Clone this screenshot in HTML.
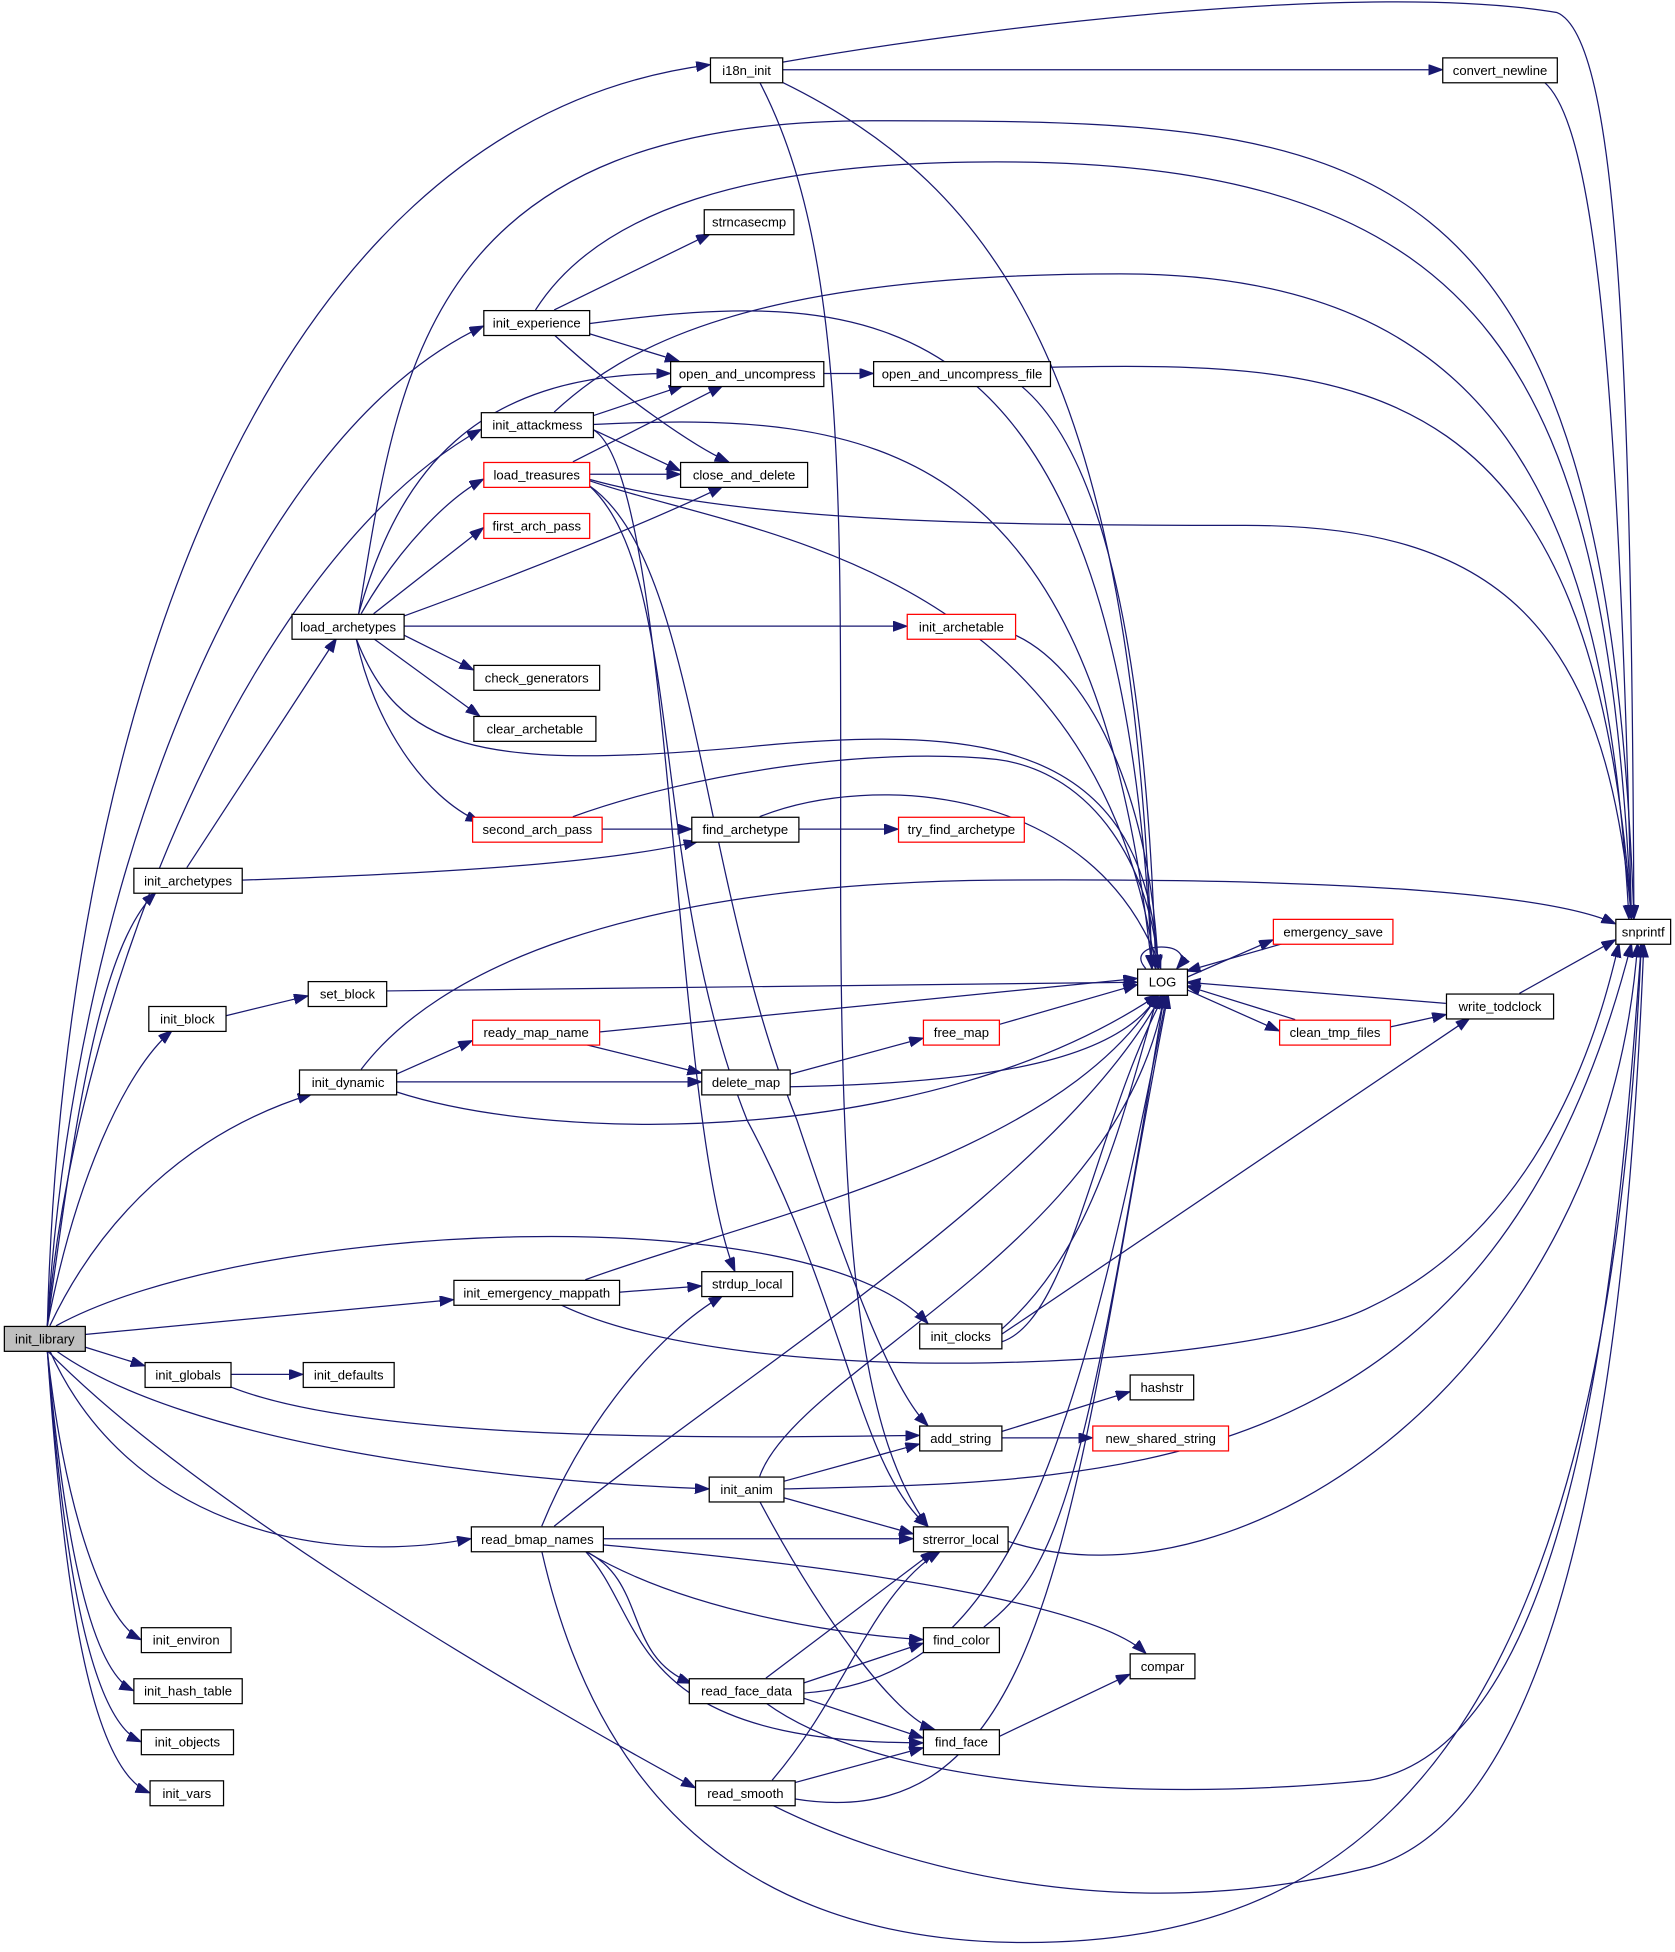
<!DOCTYPE html>
<html><head><meta charset="utf-8"><style>
html,body{margin:0;padding:0;background:#fff;}
svg{display:block;}
text{font-family:"Liberation Sans",sans-serif;font-size:10.5px;fill:#000;text-anchor:middle;dominant-baseline:central;}
.n{fill:#fff;stroke:#000;stroke-width:1;}
.r{fill:#fff;stroke:#ff0000;stroke-width:1;}
.g{fill:#bfbfbf;stroke:#000;stroke-width:1;}
path.e{fill:none;stroke:#191970;stroke-width:1;marker-end:url(#a);}
</style></head><body>
<svg width="1675" height="1952" viewBox="0 0 1345 1568" preserveAspectRatio="none" xmlns="http://www.w3.org/2000/svg">
<defs><marker id="a" markerUnits="userSpaceOnUse" markerWidth="12" markerHeight="10" refX="11" refY="4" orient="auto"><path d="M0,0 L11,4 L0,8 z" fill="#191970" stroke="#191970"/></marker></defs>
<g>
<path class="e" d="M38,1065 C50,600 200,100 570,52"/>
<path class="e" d="M38,1065 C60,700 200,350 388,262"/>
<path class="e" d="M38,1065 C60,800 200,450 386,345"/>
<path class="e" d="M38,1065 C60,900 80,760 125,717"/>
<path class="e" d="M38,1065 C60,950 100,860 138,828"/>
<path class="e" d="M40,1065 C80,980 150,910 250,879"/>
<path class="e" d="M45,1065 C200,980 650,960 745,1063"/>
<path class="e" d="M68,1072 L364,1044"/>
<path class="e" d="M68,1082 L116,1097"/>
<path class="e" d="M45,1085 C150,1160 400,1190 569,1196"/>
<path class="e" d="M40,1085 C100,1220 250,1260 378,1236"/>
<path class="e" d="M38,1085 C150,1200 400,1350 558,1436"/>
<path class="e" d="M38,1085 C50,1200 80,1300 113,1317"/>
<path class="e" d="M38,1085 C50,1220 70,1340 107,1358"/>
<path class="e" d="M38,1085 C50,1240 70,1380 113,1399"/>
<path class="e" d="M38,1085 C50,1260 70,1420 120,1440"/>
<path class="e" d="M628,56 L1158,56"/>
<path class="e" d="M628,50 C800,20 1100,-15 1250,10 C1300,30 1310,300 1312,738"/>
<path class="e" d="M628,66 C800,150 910,300 925,778"/>
<path class="e" d="M610,66 C680,200 675,400 675,700 C675,1000 690,1150 745,1226"/>
<path class="e" d="M1240,66 C1280,100 1300,300 1310,738"/>
<path class="e" d="M288,493 C320,300 340,97 700,97 C1100,97 1290,100 1312,738"/>
<path class="e" d="M445,249 L570,188"/>
<path class="e" d="M430,249 C480,170 600,130 800,130 C1200,130 1290,300 1310,738"/>
<path class="e" d="M473,268 L545,290"/>
<path class="e" d="M445,269 C500,320 560,360 585,371"/>
<path class="e" d="M473,260 C700,230 900,230 925,778"/>
<path class="e" d="M288,493 C320,380 380,300 538,300"/>
<path class="e" d="M476,334 L548,310"/>
<path class="e" d="M476,345 L546,378"/>
<path class="e" d="M445,331 C500,280 600,220 900,220 C1200,220 1290,400 1308,738"/>
<path class="e" d="M476,341 C700,330 880,350 925,778"/>
<path class="e" d="M476,345 C540,380 540,900 590,1021"/>
<path class="e" d="M661,300 L701,300"/>
<path class="e" d="M843,295 C1100,290 1280,300 1310,738"/>
<path class="e" d="M820,310 C880,360 920,500 928,778"/>
<path class="e" d="M460,371 L580,310"/>
<path class="e" d="M473,381 L546,381"/>
<path class="e" d="M473,385 C600,420 800,422 1000,422 C1200,422 1290,500 1310,738"/>
<path class="e" d="M473,386 C600,430 880,450 928,778"/>
<path class="e" d="M473,390 C560,450 560,700 640,900 C690,1050 720,1120 745,1145"/>
<path class="e" d="M473,390 C550,460 520,700 600,900 C680,1050 690,1180 745,1226"/>
<path class="e" d="M290,493 C320,440 360,400 388,385"/>
<path class="e" d="M300,493 L388,424"/>
<path class="e" d="M324,495 C420,460 520,420 580,391"/>
<path class="e" d="M324,503 L728,503"/>
<path class="e" d="M324,510 L380,538"/>
<path class="e" d="M300,513 L385,575"/>
<path class="e" d="M286,513 C300,580 340,640 385,660"/>
<path class="e" d="M286,513 C320,600 380,620 600,600 C800,580 920,600 930,778"/>
<path class="e" d="M815,510 C880,540 925,650 930,778"/>
<path class="e" d="M483,666 L555,666"/>
<path class="e" d="M460,656 C560,620 700,600 800,610 C880,620 925,700 930,778"/>
<path class="e" d="M641,666 L721,666"/>
<path class="e" d="M610,656 C700,620 880,630 932,778"/>
<path class="e" d="M150,697 L270,513"/>
<path class="e" d="M194,707 C400,700 500,690 560,676"/>
<path class="e" d="M920,778 C900,755 965,755 945,778"/>
<path class="e" d="M953,785 L1022,755"/>
<path class="e" d="M1030,758 L953,780"/>
<path class="e" d="M953,795 L1027,828"/>
<path class="e" d="M1040,819 L953,792"/>
<path class="e" d="M1116,825 L1161,815"/>
<path class="e" d="M1161,806 L953,789"/>
<path class="e" d="M1220,798 L1297,755"/>
<path class="e" d="M310,796 L913,789"/>
<path class="e" d="M181,816 L247,800"/>
<path class="e" d="M290,859 C350,780 500,710 800,707 C1100,705 1250,720 1297,742"/>
<path class="e" d="M318,863 L379,836"/>
<path class="e" d="M318,869 L563,869"/>
<path class="e" d="M318,877 C450,920 750,920 930,799"/>
<path class="e" d="M481,829 L913,786"/>
<path class="e" d="M470,839 L563,862"/>
<path class="e" d="M634,863 L741,834"/>
<path class="e" d="M634,873 C800,870 900,850 930,799"/>
<path class="e" d="M802,823 L913,791"/>
<path class="e" d="M497,1038 L563,1033"/>
<path class="e" d="M470,1028 C600,980 850,930 930,799"/>
<path class="e" d="M450,1048 C600,1120 1000,1100 1100,1050 C1250,980 1290,800 1300,758"/>
<path class="e" d="M804,1068 C880,1000 900,900 930,799"/>
<path class="e" d="M804,1072 L1180,818"/>
<path class="e" d="M804,1078 C860,1060 880,900 935,799"/>
<path class="e" d="M185,1104 L243,1104"/>
<path class="e" d="M185,1114 C300,1160 600,1155 738,1153"/>
<path class="e" d="M804,1150 L907,1118"/>
<path class="e" d="M804,1155 L877,1155"/>
<path class="e" d="M629,1190 L738,1160"/>
<path class="e" d="M629,1203 L733,1232"/>
<path class="e" d="M610,1186 C640,1100 900,1000 935,799"/>
<path class="e" d="M629,1196 C900,1190 1200,1190 1310,758"/>
<path class="e" d="M610,1206 C660,1300 720,1380 750,1389"/>
<path class="e" d="M435,1226 C470,1140 530,1070 580,1041"/>
<path class="e" d="M445,1226 C600,1100 850,950 933,799"/>
<path class="e" d="M484,1236 L733,1236"/>
<path class="e" d="M484,1241 C700,1260 880,1290 920,1328"/>
<path class="e" d="M470,1246 C560,1300 700,1315 741,1317"/>
<path class="e" d="M470,1246 C520,1270 500,1330 555,1352"/>
<path class="e" d="M470,1246 C520,1300 500,1400 741,1400"/>
<path class="e" d="M435,1246 C470,1400 560,1550 800,1560 C1100,1570 1290,1400 1318,758"/>
<path class="e" d="M809,1238 C1000,1300 1290,1100 1315,758"/>
<path class="e" d="M790,1307 C850,1260 870,1200 935,799"/>
<path class="e" d="M645,1352 L741,1320"/>
<path class="e" d="M615,1348 L750,1246"/>
<path class="e" d="M645,1364 L741,1396"/>
<path class="e" d="M645,1360 C800,1350 860,1200 937,799"/>
<path class="e" d="M615,1368 C700,1430 900,1450 1100,1430 C1270,1400 1300,1000 1318,758"/>
<path class="e" d="M802,1395 L907,1345"/>
<path class="e" d="M620,1430 C680,1360 700,1280 755,1246"/>
<path class="e" d="M638,1432 L741,1404"/>
<path class="e" d="M638,1445 C850,1480 860,1200 938,799"/>
<path class="e" d="M620,1450 C720,1500 900,1550 1100,1500 C1280,1450 1310,1000 1320,758"/>
</g>
<g>
<rect class="g" x="3.5" y="1065.5" width="65" height="20"/><text x="36" y="1075.5">init_library</text>
<rect class="n" x="570.5" y="46.5" width="58" height="20"/><text x="599.5" y="56.5">i18n_init</text>
<rect class="n" x="1158.5" y="46.5" width="92" height="20"/><text x="1204.5" y="56.5">convert_newline</text>
<rect class="n" x="1297.5" y="738.5" width="44" height="20"/><text x="1319.5" y="748.5">snprintf</text>
<rect class="n" x="565.5" y="168.5" width="72" height="20"/><text x="601.5" y="178.5">strncasecmp</text>
<rect class="n" x="388.5" y="249.5" width="85" height="20"/><text x="431" y="259.5">init_experience</text>
<rect class="n" x="538.5" y="290.5" width="123" height="20"/><text x="600" y="300.5">open_and_uncompress</text>
<rect class="n" x="701.5" y="290.5" width="142" height="20"/><text x="772.5" y="300.5">open_and_uncompress_file</text>
<rect class="n" x="386.5" y="331.5" width="90" height="20"/><text x="431.5" y="341.5">init_attackmess</text>
<rect class="r" x="388.5" y="371.5" width="85" height="20"/><text x="431" y="381.5">load_treasures</text>
<rect class="n" x="546.5" y="371.5" width="102" height="20"/><text x="597.5" y="381.5">close_and_delete</text>
<rect class="r" x="388.5" y="412.5" width="85" height="20"/><text x="431" y="422.5">first_arch_pass</text>
<rect class="n" x="234.5" y="493.5" width="90" height="20"/><text x="279.5" y="503.5">load_archetypes</text>
<rect class="r" x="728.5" y="493.5" width="87" height="20"/><text x="772" y="503.5">init_archetable</text>
<rect class="n" x="380.5" y="534.5" width="101" height="20"/><text x="431" y="544.5">check_generators</text>
<rect class="n" x="380.5" y="575.5" width="98" height="20"/><text x="429.5" y="585.5">clear_archetable</text>
<rect class="r" x="379.5" y="656.5" width="104" height="20"/><text x="431.5" y="666.5">second_arch_pass</text>
<rect class="n" x="555.5" y="656.5" width="86" height="20"/><text x="598.5" y="666.5">find_archetype</text>
<rect class="r" x="721.5" y="656.5" width="101" height="20"/><text x="772" y="666.5">try_find_archetype</text>
<rect class="n" x="107.5" y="697.5" width="87" height="20"/><text x="151" y="707.5">init_archetypes</text>
<rect class="r" x="1022.5" y="738.5" width="96" height="20"/><text x="1070.5" y="748.5">emergency_save</text>
<rect class="n" x="913.5" y="778.5" width="40" height="21"/><text x="933.5" y="789">LOG</text>
<rect class="n" x="247.5" y="788.5" width="63" height="20"/><text x="279" y="798.5">set_block</text>
<rect class="n" x="119.5" y="808.5" width="62" height="20"/><text x="150.5" y="818.5">init_block</text>
<rect class="r" x="379.5" y="819.5" width="102" height="20"/><text x="430.5" y="829.5">ready_map_name</text>
<rect class="r" x="741.5" y="819.5" width="61" height="20"/><text x="772" y="829.5">free_map</text>
<rect class="r" x="1027.5" y="819.5" width="89" height="20"/><text x="1072" y="829.5">clean_tmp_files</text>
<rect class="n" x="1161.5" y="798.5" width="86" height="20"/><text x="1204.5" y="808.5">write_todclock</text>
<rect class="n" x="240.5" y="859.5" width="78" height="20"/><text x="279.5" y="869.5">init_dynamic</text>
<rect class="n" x="563.5" y="859.5" width="71" height="20"/><text x="599" y="869.5">delete_map</text>
<rect class="n" x="364.5" y="1028.5" width="133" height="20"/><text x="431" y="1038.5">init_emergency_mappath</text>
<rect class="n" x="563.5" y="1021.5" width="73" height="20"/><text x="600" y="1031.5">strdup_local</text>
<rect class="n" x="738.5" y="1063.5" width="66" height="20"/><text x="771.5" y="1073.5">init_clocks</text>
<rect class="n" x="116.5" y="1094.5" width="69" height="20"/><text x="151" y="1104.5">init_globals</text>
<rect class="n" x="243.5" y="1094.5" width="73" height="20"/><text x="280" y="1104.5">init_defaults</text>
<rect class="n" x="907.5" y="1104.5" width="51" height="20"/><text x="933" y="1114.5">hashstr</text>
<rect class="n" x="738.5" y="1145.5" width="66" height="20"/><text x="771.5" y="1155.5">add_string</text>
<rect class="r" x="877.5" y="1145.5" width="109" height="20"/><text x="932" y="1155.5">new_shared_string</text>
<rect class="n" x="569.5" y="1186.5" width="60" height="20"/><text x="599.5" y="1196.5">init_anim</text>
<rect class="n" x="378.5" y="1226.5" width="106" height="20"/><text x="431.5" y="1236.5">read_bmap_names</text>
<rect class="n" x="733.5" y="1226.5" width="76" height="20"/><text x="771.5" y="1236.5">strerror_local</text>
<rect class="n" x="113.5" y="1307.5" width="72" height="20"/><text x="149.5" y="1317.5">init_environ</text>
<rect class="n" x="741.5" y="1307.5" width="61" height="20"/><text x="772" y="1317.5">find_color</text>
<rect class="n" x="907.5" y="1328.5" width="52" height="20"/><text x="933.5" y="1338.5">compar</text>
<rect class="n" x="553.5" y="1348.5" width="92" height="20"/><text x="599.5" y="1358.5">read_face_data</text>
<rect class="n" x="107.5" y="1348.5" width="87" height="20"/><text x="151" y="1358.5">init_hash_table</text>
<rect class="n" x="741.5" y="1389.5" width="61" height="20"/><text x="772" y="1399.5">find_face</text>
<rect class="n" x="113.5" y="1389.5" width="74" height="20"/><text x="150.5" y="1399.5">init_objects</text>
<rect class="n" x="558.5" y="1430.5" width="80" height="20"/><text x="598.5" y="1440.5">read_smooth</text>
<rect class="n" x="120.5" y="1430.5" width="59" height="20"/><text x="150" y="1440.5">init_vars</text>
</g>
</svg>
</body></html>
